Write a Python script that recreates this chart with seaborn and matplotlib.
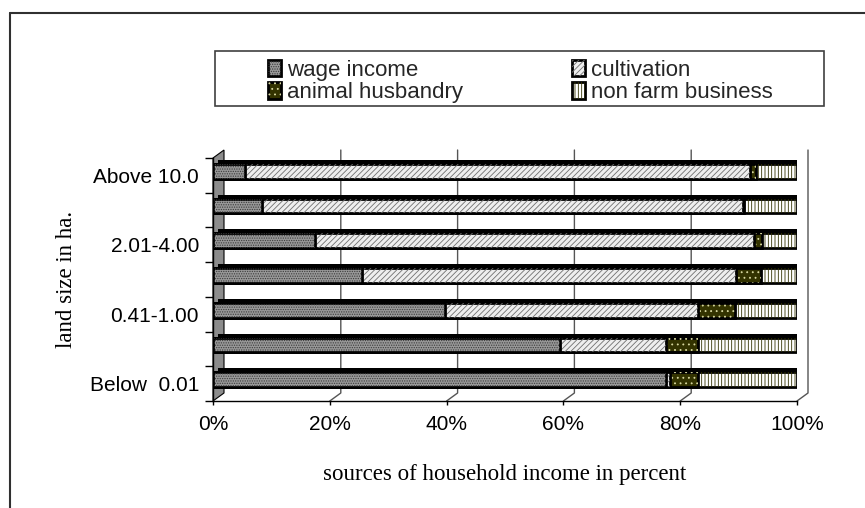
import numpy as np
import pandas as pd
import matplotlib
matplotlib.use("Agg")
import matplotlib.pyplot as plt
import seaborn as sns
from matplotlib.transforms import ScaledTranslation
from matplotlib.patches import Patch, Rectangle, Polygon
from matplotlib.lines import Line2D

# ---------------- data ----------------
categories = ["Above 10.0", "4.01-10.00", "2.01-4.00", "1.01-2.00",
              "0.41-1.00", "0.01-0.40", "Below  0.01"]
tick_labels = ["Above 10.0", "", "2.01-4.00", "", "0.41-1.00", "", "Below  0.01"]
wage_income = [5.5, 8.4, 17.4, 25.5, 39.8, 59.4, 77.6]
cultivation = [86.4, 82.3, 75.2, 64.0, 43.2, 18.2, 0.6]
animal_husbandry = [1.0, 0.3, 1.4, 4.3, 6.3, 5.5, 4.9]
non_farm_business = [7.1, 9.0, 6.0, 6.2, 10.7, 16.9, 16.9]
series_names = ["wage income", "cultivation", "animal husbandry", "non farm business"]
x_ticks = [0, 20, 40, 60, 80, 100]
x_tick_labels = ["0%", "20%", "40%", "60%", "80%", "100%"]

# ---------------- style ----------------
sns.set_theme(style="white")
plt.rcParams['font.family'] = ['Liberation Sans', 'DejaVu Sans']
plt.rcParams['hatch.linewidth'] = 0.6

W, H, DPI = 865, 508, 100
fig = plt.figure(figsize=(W / DPI, H / DPI), dpi=DPI)
fig.patch.set_facecolor("white")
ax = fig.add_axes([213 / W, 1 - 401 / H, 584 / W, 243 / H])

df = pd.DataFrame({"category": categories,
                   "wage": wage_income, "cult": cultivation,
                   "animal": animal_husbandry, "nonfarm": non_farm_business})
df["c1"] = df["wage"]
df["c2"] = df["c1"] + df["cult"]
df["c3"] = df["c2"] + df["animal"]
df["c4"] = df["c3"] + df["nonfarm"]

def shift(dx, dy):
    return ScaledTranslation(dx / DPI, dy / DPI, fig.dpi_scale_trans)

BAR_W = 0.42
# styles: (cum col, face, hatch, hatch colour)
styles = [
    ("c4", "#ffffff", "|||||", "#333300"),
    ("c3", "#333300", "...", "#d8d8a0"),
    ("c2", "#eeeeee", "//////", "#707070"),
    ("c1", "#989898", ".......", "#3c3c3c"),
]

# 3D shadow (top & side faces)
n0 = len(ax.patches)
sns.barplot(data=df, x="c4", y="category", order=categories, orient="h",
            color="black", saturation=1, width=BAR_W, ax=ax, linewidth=0)
for p in ax.patches[n0:]:
    p.set_transform(ax.transData + shift(5, 8))
    p.set_zorder(2)

for col, face, hatch, hcol in styles:
    n0 = len(ax.patches)
    sns.barplot(data=df, x=col, y="category", order=categories, orient="h",
                color=face, saturation=1, width=BAR_W, ax=ax)
    for p in ax.patches[n0:]:
        p.set_facecolor(face)
        p.set_edgecolor("black")
        p.set_linewidth(2.0)
        p.set_transform(ax.transData + shift(0, 4))
        p.set_zorder(3)
    n0 = len(ax.patches)
    sns.barplot(data=df, x=col, y="category", order=categories, orient="h",
                color=face, saturation=1, width=BAR_W, ax=ax)
    for p in ax.patches[n0:]:
        p.set_facecolor("none")
        p.set_edgecolor(hcol)
        p.set_linewidth(0)
        p.set_hatch(hatch)
        p.set_transform(ax.transData + shift(0, 4))
        p.set_zorder(3)

ncat = len(categories)
ax.set_xlim(0, 100)
ax.set_ylim(ncat - 0.5, -0.5)

# back wall offset in data units
dx = 11 / (584 / 100)
dy = 8 / (243 / ncat)
top, bottom = -0.5, ncat - 0.5
wall = Polygon([(0, bottom), (0, top), (dx, top - dy), (dx, bottom - dy)],
               closed=True, facecolor="#8c8c8c", edgecolor="black", lw=0.8,
               zorder=1, clip_on=False)
ax.add_patch(wall)
for v in x_ticks[1:]:
    ax.add_line(Line2D([v + dx, v + dx, v], [top - dy, bottom - dy, bottom],
                       color="#555555", lw=1.0, zorder=1, clip_on=False))

# axes decorations
for s in ["top", "right"]:
    ax.spines[s].set_visible(False)
for s in ["bottom", "left"]:
    ax.spines[s].set_color("black")
    ax.spines[s].set_linewidth(1.0)
    ax.spines[s].set_zorder(4)
ax.set_facecolor("white")
ax.grid(False)

ax.set_xticks(x_ticks, labels=x_tick_labels)
ax.set_yticks(range(ncat), labels=tick_labels)
ax.set_yticks(np.arange(-0.5, ncat, 1.0), minor=True)
ax.tick_params(axis="x", which="major", direction="out", length=3, width=1,
               color="black", labelsize=15, pad=7, labelcolor="black", bottom=True)
ax.tick_params(axis="y", which="major", length=0, labelsize=15, pad=10,
               labelcolor="black", left=True)
ax.tick_params(axis="y", which="minor", direction="out", length=6, width=1,
               color="black", left=True)

serif = ["Liberation Serif", "DejaVu Serif"]
ax.set_xlabel("sources of household income in percent", fontsize=16.5,
              family=serif, labelpad=22, color="black")
ax.set_ylabel("land size in ha.", fontsize=16.5, family=serif, labelpad=9,
              color="black")

# legend
handles = []
for col, face, hatch, hcol in styles[::-1]:
    h1 = Patch(facecolor=face, edgecolor="black", linewidth=2.0)
    h2 = Patch(facecolor="none", edgecolor=hcol, linewidth=0, hatch=hatch)
    handles.append((h1, h2))
order = [0, 2, 1, 3]
leg = fig.legend([handles[i] for i in order], [series_names[i] for i in order],
                 loc="upper left", bbox_to_anchor=(268 / W, 1 - 60 / H), ncol=2,
                 frameon=False, fontsize=16, handlelength=0.6, handleheight=0.75,
                 handletextpad=0.25, columnspacing=4.9, labelspacing=0.06,
                 borderpad=0, borderaxespad=0)
fig.add_artist(Rectangle((215 / W, 1 - 106 / H), (824 - 215) / W, 55 / H,
                         transform=fig.transFigure, fill=False,
                         edgecolor="#404040", lw=1.2))

# outer frame lines
fig.add_artist(Line2D([10 / W, 1], [1 - 13 / H, 1 - 13 / H],
                      transform=fig.transFigure, color="#303030", lw=1.5))
fig.add_artist(Line2D([10 / W, 10 / W], [0, 1 - 13 / H],
                      transform=fig.transFigure, color="#303030", lw=1.5))

fig.savefig("out.png", dpi=DPI, facecolor="white")
